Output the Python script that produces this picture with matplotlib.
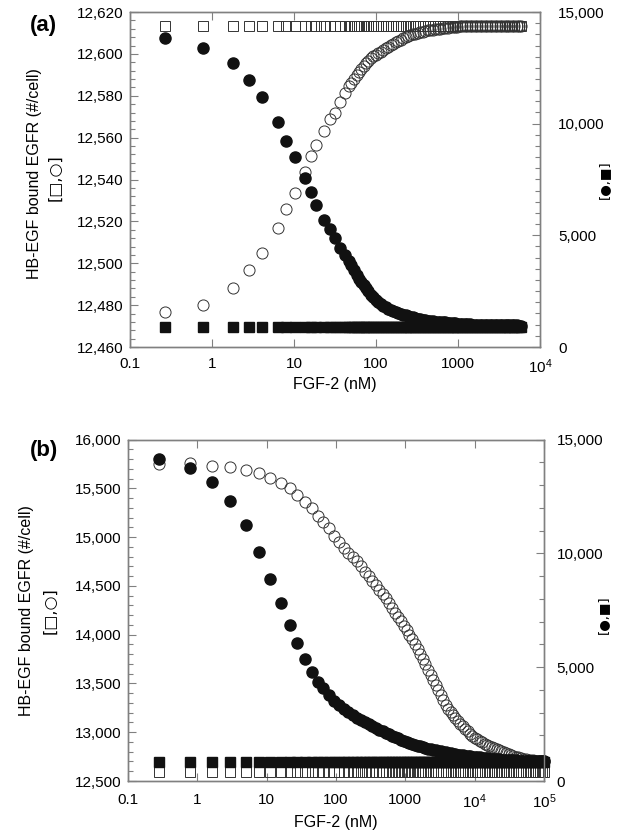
# Importamos las librerias necesarias
import matplotlib.pyplot as plt
from matplotlib.ticker import MultipleLocator, NullLocator, FuncFormatter

# ------------------------------------------
# DATOS
# ------------------------------------------

# Panel (a): concentracion de FGF-2 (nM)
fgf_a = [0.27, 0.78, 1.8, 2.8, 4.1, 6.3, 8.1, 10.2, 13.5, 16.2, 18.6, 23.5, 27.1, 31.2, 36.9, 42.2,
         47, 50, 54, 58, 62, 66, 71, 76, 81, 87,
         93, 100, 107, 115, 123, 132, 141, 151, 162, 174,
         186, 200, 214, 229, 246, 263, 282, 303, 324, 348,
         373, 400, 428, 459, 492, 528, 566, 606, 650, 697,
         747, 800, 858, 920, 986, 1057, 1133, 1214, 1302, 1395,
         1496, 1603, 1719, 1842, 1975, 2117, 2269, 2433, 2608, 2795,
         2997, 3212, 3443, 3691, 3957, 4242, 4548, 4875, 5226, 5602, 5800]

# Circulos abiertos (eje izquierdo)
circ_abierto_a = [12476.6, 12480, 12488.3, 12496.8, 12504.7, 12517, 12525.8, 12533.4, 12543.7, 12551.4,
                  12556.5, 12563.3, 12568.7, 12572, 12577.2, 12581.4,
                  12584.5, 12586.3, 12588.2, 12589.9, 12591.4, 12592.9, 12594.3, 12595.5, 12596.5, 12597.8,
                  12598.8, 12599.7, 12600.5, 12601.1, 12601.9, 12602.7, 12603.4, 12604.1, 12604.9, 12605.6,
                  12606.2, 12606.8, 12607.4, 12607.9, 12608.6, 12609.1, 12609.4, 12609.7, 12610, 12610.3,
                  12610.6, 12610.9, 12611.2, 12611.4, 12611.6, 12611.7, 12611.9, 12612, 12612.2, 12612.3,
                  12612.5, 12612.6, 12612.8, 12612.9, 12613, 12613.1, 12613.2, 12613.2, 12613.3, 12613.3,
                  12613.4, 12613.4, 12613.4, 12613.4, 12613.5, 12613.5, 12613.5, 12613.5, 12613.5, 12613.5,
                  12613.5, 12613.5, 12613.5, 12613.5, 12613.5, 12613.5, 12613.5, 12613.5, 12613.5, 12613.5,
                  12613.5]

# Circulos rellenos (eje derecho)
circ_relleno_a = [13824, 13403, 12705, 11957, 11182, 10063, 9239, 8522, 7555, 6928,
                  6359, 5687, 5271, 4895, 4447, 4120,
                  3840, 3670, 3452, 3242, 3050, 2900, 2760, 2620, 2490, 2345,
                  2219, 2114, 2017, 1913, 1823, 1770, 1720, 1668, 1615, 1565,
                  1520, 1480, 1445, 1412, 1380, 1351, 1321, 1297, 1274, 1250,
                  1227, 1205, 1182, 1162, 1151, 1141, 1130, 1120, 1110, 1099,
                  1088, 1080, 1069, 1058, 1048, 1040, 1032, 1024, 1016, 1008,
                  1005, 1002, 999, 996, 993, 990, 988, 986, 984, 982,
                  980, 978, 976, 974, 972, 970, 968, 966, 964, 962, 961]

# Cuadrados: valor constante
cuad_abierto_a = [12613.3] * len(fgf_a)
cuad_relleno_a = [882] * len(fgf_a)

# Panel (b): concentracion de FGF-2 (nM)
fgf_b = [0.28, 0.78, 1.63, 3.0, 5.0, 7.8, 11.3, 16, 21.5, 27.8, 35.5, 45.2, 55.2,
         66, 79, 94, 111, 130, 151, 175, 201, 230, 262,
         297, 335, 377, 423, 472, 526, 584, 647, 714, 787,
         866, 950, 1040, 1140, 1250, 1370, 1500, 1640, 1790, 1950,
         2130, 2320, 2520, 2740, 2980, 3240, 3520, 3820, 4150, 4500,
         4880, 5290, 5740, 6220, 6740, 7300, 7910, 8570, 9280, 10050,
         10900, 11800, 12800, 13900, 15000, 16300, 17600, 19100, 20700, 22400,
         24300, 26300, 28500, 30900, 33500, 36300, 39300, 42600, 46100, 50000,
         54200, 58700, 63600, 68900, 74600, 80900, 87600, 94900, 100000]

circ_abierto_b = [15749, 15762, 15732, 15715, 15687, 15654, 15609, 15557, 15500, 15431, 15363, 15295, 15215,
                  15150, 15090, 15010, 14945, 14890, 14840, 14800, 14750, 14700, 14645,
                  14600, 14550, 14505, 14460, 14420, 14375, 14325, 14270, 14225, 14180,
                  14135, 14090, 14048, 14001, 13953, 13906, 13856, 13801, 13746, 13694,
                  13640, 13587, 13536, 13483, 13432, 13380, 13329, 13280, 13241, 13210,
                  13179, 13147, 13115, 13085, 13060, 13036, 13011, 12986, 12961, 12944,
                  12929, 12914, 12899, 12884, 12870, 12855, 12844, 12834, 12825, 12815,
                  12805, 12795, 12785, 12776, 12767, 12758, 12750, 12742, 12735, 12729,
                  12724, 12719, 12715, 12711, 12708, 12705, 12703, 12701, 12700]

circ_relleno_b = [14130, 13734, 13145, 12298, 11244, 10071, 8872, 7805, 6852, 6048, 5372, 4801, 4361,
                  4066, 3777, 3522, 3347, 3180, 3022, 2893, 2783, 2675, 2572,
                  2482, 2403, 2325, 2250, 2177, 2106, 2045, 1987, 1931, 1876,
                  1821, 1769, 1718, 1666, 1628, 1593, 1559, 1525, 1492, 1459,
                  1426, 1394, 1362, 1341, 1320, 1299, 1278, 1258, 1238, 1218,
                  1198, 1178, 1157, 1139, 1126, 1113, 1100, 1087, 1074, 1061,
                  1048, 1035, 1021, 1008, 996, 985, 975, 966, 957, 949,
                  941, 934, 927, 921, 915, 910, 905, 900, 896, 892,
                  889, 886, 883, 881, 879, 877, 875, 873, 872]

cuad_abierto_b = [12595] * len(fgf_b)
cuad_relleno_b = [848] * len(fgf_b)

# Etiquetas de los ejes x
ticks_a = [0.1, 1, 10, 100, 1000, 1e4]
etiquetas_a = ['0.1', '1', '10', '100', '1000', '$10^4$']
ticks_b = [0.1, 1, 10, 100, 1000, 1e4, 1e5]
etiquetas_b = ['0.1', '1', '10', '100', '1000', '$10^4$', '$10^5$']

# ------------------------------------------
# ESTILO GENERAL
# ------------------------------------------

plt.rcParams['font.family'] = ['Liberation Sans', 'DejaVu Sans']
plt.rcParams['mathtext.default'] = 'regular'

GRIS = '#808080'
NEGRO = '#111111'
ANCHO, ALTO = 617, 838
SIMBOLOS = ['DejaVu Sans']

miles = FuncFormatter(lambda v, p: '{:,}'.format(int(round(v))))


def caja(px_izq, px_der, px_arr, px_abj):
    # Convierte pixeles de la figura a fracciones para add_axes
    return [px_izq / ANCHO, 1 - px_abj / ALTO, (px_der - px_izq) / ANCHO, (px_abj - px_arr) / ALTO]


def dibujar_panel(caja_px, x, cuad_ab, circ_ab, circ_re, cuad_re, xlim, ylim_izq, paso_izq, menor_izq,
                  menor_der, ticks, etiquetas, pad_x, pad_der):
    ax = fig.add_axes(caja_px)
    ax2 = ax.twinx()

    # Series del eje izquierdo (simbolos abiertos)
    ax.plot(x, cuad_ab, 's', ms=7.6, mfc='none', mec='#333333', mew=0.7, clip_on=False)
    ax.plot(x, circ_ab, 'o', ms=8.0, mfc='none', mec='#333333', mew=0.7, clip_on=False)

    # Series del eje derecho (simbolos rellenos)
    ax2.plot(x, cuad_re, 's', ms=7.6, color=NEGRO, mec=NEGRO, clip_on=False)
    ax2.plot(x, circ_re, 'o', ms=8.0, color=NEGRO, mec=NEGRO, clip_on=False)

    ax.set_xscale('log')
    ax.set_xlim(*xlim)
    ax.set_ylim(*ylim_izq)
    ax2.set_ylim(0, 15000)

    ax.set_xticks(ticks)
    ax.set_xticklabels(etiquetas)
    ax.xaxis.set_minor_locator(NullLocator())

    ax.yaxis.set_major_locator(MultipleLocator(paso_izq))
    ax.yaxis.set_minor_locator(MultipleLocator(menor_izq))
    ax.yaxis.set_major_formatter(miles)
    ax2.yaxis.set_major_locator(MultipleLocator(5000))
    ax2.yaxis.set_minor_locator(MultipleLocator(menor_der))
    ax2.yaxis.set_major_formatter(miles)

    ax.tick_params(axis='x', which='major', direction='in', top=True, length=6, width=0.8,
                   color=GRIS, labelsize=11, pad=pad_x)
    ax.tick_params(axis='y', which='major', direction='in', length=6, width=0.8, color=GRIS,
                   labelsize=11, pad=5)
    ax.tick_params(axis='y', which='minor', direction='in', length=3.5, width=0.8, color=GRIS)
    ax2.tick_params(axis='y', which='major', direction='in', length=6, width=0.8, color=GRIS,
                    labelsize=11, pad=pad_der)
    ax2.tick_params(axis='y', which='minor', direction='in', length=3.5, width=0.8, color=GRIS)

    for a in (ax, ax2):
        for lado in a.spines.values():
            lado.set_color(GRIS)
            lado.set_linewidth(1.0)
    return ax, ax2


# ------------------------------------------
# CREAMOS LA FIGURA
# ------------------------------------------

fig = plt.figure(figsize=(ANCHO / 100, ALTO / 100), dpi=100)

# Panel (a)
dibujar_panel(caja(130, 540, 12, 347), fgf_a, cuad_abierto_a, circ_abierto_a, circ_relleno_a,
              cuad_relleno_a, (0.1, 1e4), (12460, 12620), 20, 4, 500, ticks_a, etiquetas_a, 7.5, 13)

# Panel (b)
dibujar_panel(caja(128, 544, 439.5, 781), fgf_b, cuad_abierto_b, circ_abierto_b, circ_relleno_b,
              cuad_relleno_b, (0.1, 1e5), (12500, 16000), 500, 100, 1000, ticks_b, etiquetas_b, 8.5, 9)

# ------------------------------------------
# TEXTOS
# ------------------------------------------

def texto(px, py, s, **kw):
    fig.text(px / ANCHO, 1 - py / ALTO, s, ha='center', va='center', **kw)


texto(43, 25, '(a)', fontsize=16, fontweight='bold')
texto(44, 450, '(b)', fontsize=16, fontweight='bold')

texto(35, 174, 'HB-EGF bound EGFR (#/cell)', fontsize=11.5, rotation=90)
texto(55, 178, '[□,○]', fontsize=11.5, rotation=90, family=SIMBOLOS)
texto(27, 611, 'HB-EGF bound EGFR (#/cell)', fontsize=11.5, rotation=90)
texto(50, 611, '[□,○]', fontsize=11.5, rotation=90, family=SIMBOLOS)

texto(604, 180, '[●,■]', fontsize=9.5, rotation=90, family=SIMBOLOS)
texto(603, 615, '[●,■]', fontsize=9.5, rotation=90, family=SIMBOLOS)

texto(335, 385, 'FGF-2 (nM)', fontsize=11.5)
texto(336, 822, 'FGF-2 (nM)', fontsize=11.5)

plt.savefig('out.png', dpi=100)
